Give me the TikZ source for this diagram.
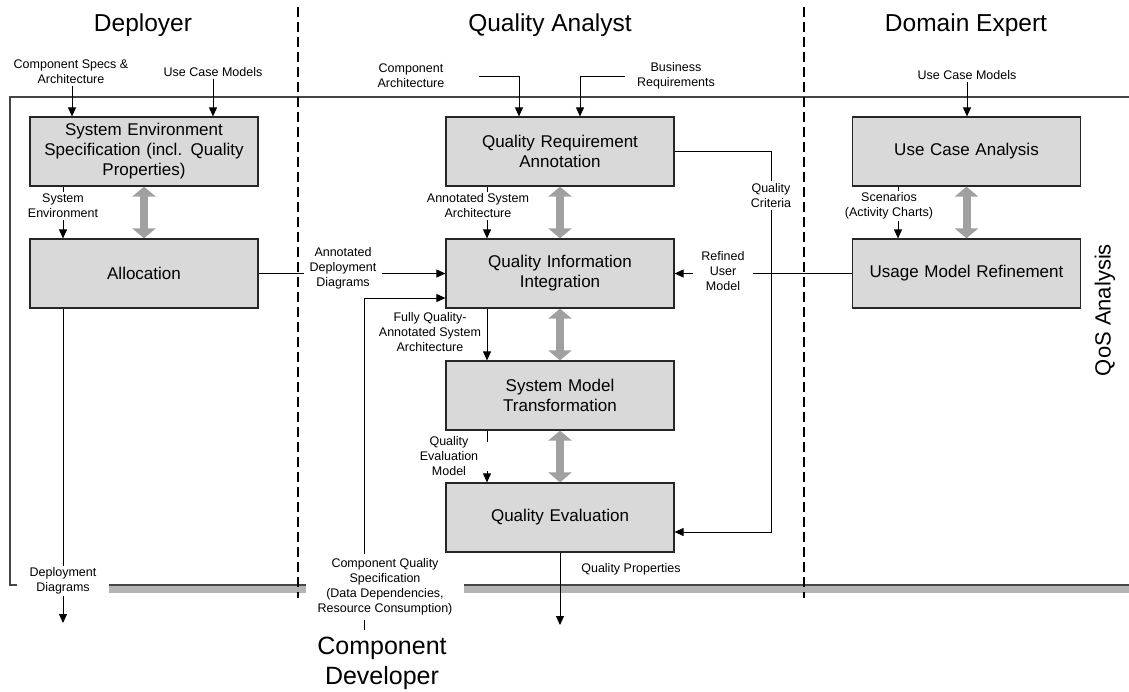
\documentclass[tikz,border=0pt]{standalone}
\usepackage{fontspec}
\setmainfont{Liberation Sans}
\usetikzlibrary{arrows.meta}

\definecolor{boxfill}{RGB}{217,217,217}
\definecolor{dblgray}{RGB}{160,160,160}
\definecolor{shadowgray}{RGB}{180,180,180}
\definecolor{framegray}{RGB}{70,70,70}

\tikzset{
  procbox/.style={draw=black!85, line width=1.2pt, fill=boxfill,
    minimum width=228pt, minimum height=69pt, inner sep=0pt,
    text width=215pt, align=center, font=\fontsize{17}{20}\selectfont},
  flow/.style={line width=0.9pt, -{Triangle[length=9pt,width=8pt]}},
  plainflow/.style={line width=0.9pt},
  dbl/.style={draw=dblgray, line width=8pt,
    {Triangle[length=10pt,width=23pt]}-{Triangle[length=10pt,width=23pt]}},
  lbl/.style={font=\fontsize{12.5}{15}\selectfont, align=center,
    inner xsep=6pt, inner ysep=2pt},
  wlbl/.style={lbl, fill=white},
  rolehead/.style={font=\fontsize{24.5}{29}\selectfont, anchor=base, inner sep=0pt},
  lane/.style={line width=2pt, dash pattern=on 10pt off 5pt},
  frameline/.style={draw=framegray, line width=1.3pt}
}

\begin{document}
\begin{tikzpicture}[x=1pt,y=-1pt]
\useasboundingbox (0,0) rectangle (1129,691);

% QoS analysis frame with its shadow bar
\fill[shadowgray] (18,586) rectangle (1129,593);
\draw[frameline] (1129,97) -- (10,97) -- (10,585) -- (1129,585);

% role lanes
\draw[lane] (298,7) -- (298,598);
\draw[lane] (804,7) -- (804,598);

% role headings
\node[rolehead] (hdep) at (143,31) {Deployer};
\node[rolehead] (hqa) at (550,31) {Quality Analyst};
\node[rolehead] (hde) at (966,31) {Domain Expert};
\node[font=\fontsize{25}{30}\selectfont, align=center, inner sep=0pt] (hcd) at (382,663) {Component\\Developer};
\node[font=\fontsize{22}{26}\selectfont, rotate=90, inner sep=0pt] (qos) at (1105,310) {QoS Analysis};

% process steps
\node[procbox] (se)  at (144,151.5) {System Environment\\Specification (incl. Quality\\Properties)};
\node[procbox] (al)  at (144,273.5) {Allocation};
\node[procbox] (qra) at (560,151.5) {Quality Requirement\\Annotation};
\node[procbox] (qii) at (560,273.5) {Quality Information\\Integration};
\node[procbox] (smt) at (560,395.5) {System Model\\Transformation};
\node[procbox] (qe)  at (560,517.5) {Quality Evaluation};
\node[procbox] (uca) at (966.5,151.5) {Use Case Analysis};
\node[procbox] (umr) at (966.5,273.5) {Usage Model Refinement};

% iteration arrows
\draw[dbl] (se.south) -- (al.north);
\draw[dbl] (qra.south) -- (qii.north);
\draw[dbl] (qii.south) -- (smt.north);
\draw[dbl] (smt.south) -- (qe.north);
\draw[dbl] (uca.south) -- (umr.north);

% inputs from outside the analysis
\node[lbl] (csa) at (71,72) {Component Specs \&\\Architecture};
\node[lbl] (uc1) at (213,72) {Use Case Models};
\node[lbl] (ca)  at (411,76) {Component\\Architecture};
\node[lbl] (br)  at (676,76) {Business\\Requirements};
\node[lbl] (uc2) at (967,75) {Use Case Models};
\coordinate (caStart) at (479,76);
\coordinate (brStart) at (625,76);

\draw[flow] ([xshift=1]csa.south) -- ([xshift=1]csa.south |- se.north);
\draw[flow] (uc1.south) -- (uc1.south |- se.north);
\draw[flow] (caStart) -| ([xshift=-41]qra.north);
\draw[flow] (brStart) -| ([xshift=20]qra.north);
\draw[flow] (uc2.south) -- (uc2.south |- uca.north);

% data flow between steps
\coordinate (qcTurn) at (771,532);
\coordinate (cdTop) at (364,630);
\coordinate (ddEnd) at (63,623);
\coordinate (qpEnd) at (560,625);
\coordinate (qemTop) at (487,442);
\coordinate (qemBot) at (487,471);

\draw[flow] ([xshift=-81]se.south) -- ([xshift=-81]al.north);
\draw[flow] ([xshift=-73]qra.south) -- ([xshift=-73]qii.north);
\draw[flow] ([xshift=-73]qii.south) -- ([xshift=-73]smt.north);
\draw[plainflow] ([xshift=-73]smt.south) -- (qemTop);
\draw[flow] (qemBot) -- ([xshift=-73]qe.north);
\draw[flow] ([xshift=-68.5]uca.south) -- ([xshift=-68.5]umr.north);
\draw[flow] (al.east) -- (qii.west);
\draw[flow] (umr.west) -- (qii.east);
\draw[flow] (qra.east) -| (qcTurn) -- ([yshift=-14.5]qe.east);
\draw[flow] (cdTop) |- ([yshift=-24.5]qii.west);
\draw[flow] ([xshift=-81]al.south) -- (ddEnd);
\draw[flow] (qe.south) -- (qpEnd);

% flow labels
\node[wlbl, inner xsep=14pt] (lse) at (63,206) {System\\Environment};
\node[wlbl] (lasa) at (478,206) {Annotated System\\Architecture};
\node[wlbl] (ladd) at (343,268) {Annotated\\Deployment\\Diagrams};
\node[wlbl, inner xsep=8pt] (lrum) at (723,271) {Refined\\User\\Model};
\node[wlbl] (lqc) at (771,195.5) {Quality\\Criteria};
\node[wlbl] (lsc) at (889,206) {Scenarios\\(Activity Charts)};
\node[lbl] (lfqa) at (430,332) {Fully Quality-\\Annotated System\\Architecture};
\node[lbl] (lqem) at (449,456) {Quality\\Evaluation\\Model};
\node[wlbl, inner xsep=13pt] (ldd) at (63,581) {Deployment\\Diagrams};
\node[wlbl, inner xsep=12pt, inner ysep=5pt] (lcqs) at (385,587) {Component Quality\\Specification\\(Data Dependencies,\\Resource Consumption)};
\node[lbl] (lqp) at (631,569) {Quality Properties};
\end{tikzpicture}
\end{document}
